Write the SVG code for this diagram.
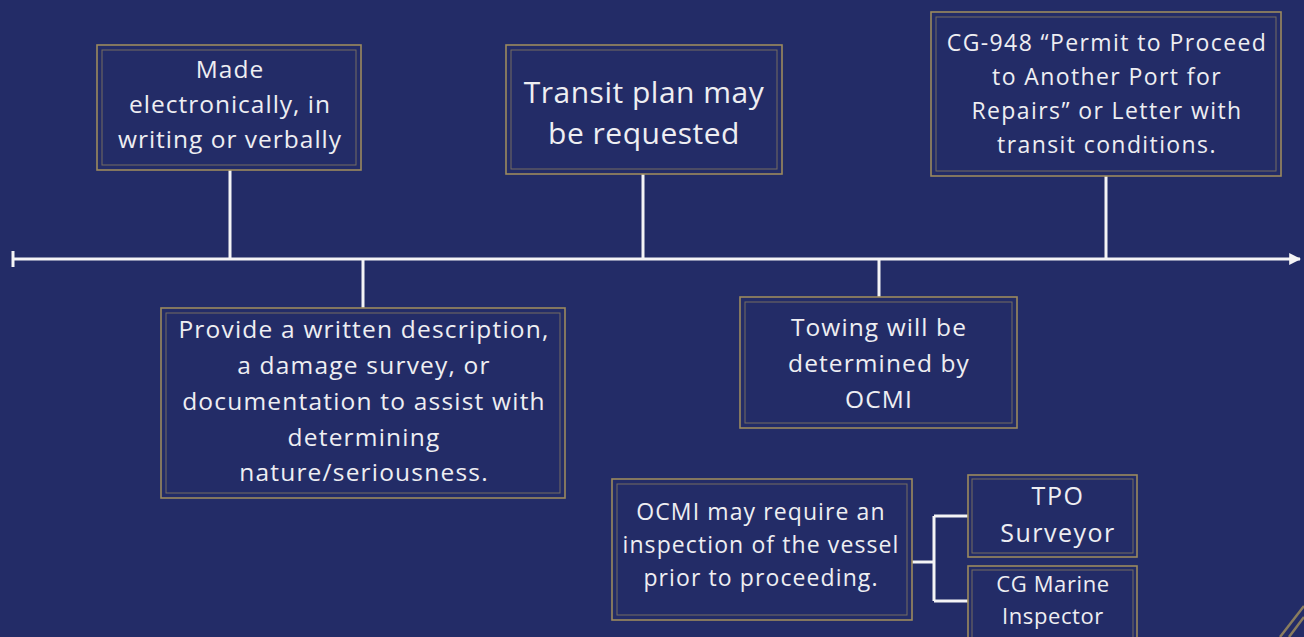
<svg xmlns="http://www.w3.org/2000/svg" width="1304" height="637" viewBox="0 0 1304 637">
<defs>
<style>
.bg{fill:#232c67}
.outer{fill:#232c67;stroke:#9c8a5e;stroke-width:1.6}
.inner{fill:none;stroke:#8a7d62;stroke-width:1;opacity:0.8}
.t{font-family:"Open Sans","Liberation Sans",sans-serif;fill:#eeeef2;text-anchor:middle}
.ln{stroke:#f4f4f6;stroke-width:3;fill:none}
</style>
<marker id="arr" viewBox="0 0 10 10" refX="9" refY="5" markerWidth="4" markerHeight="4" orient="auto" markerUnits="strokeWidth">
<path d="M0,0 L10,5 L0,10 z" fill="#f4f4f6"/>
</marker>
</defs>
<rect class="bg" x="0" y="0" width="1304" height="637"/>
<g id="decor">
<line x1="1304" y1="606" x2="1280" y2="637" stroke="#8a7d5e" stroke-width="2.5"/>
<line x1="1304" y1="617" x2="1289" y2="637" stroke="#8a7d5e" stroke-width="2.5"/>
</g>
<g id="connectors">
<line class="ln" x1="13" y1="259" x2="1300" y2="259" marker-end="url(#arr)"/>
<line class="ln" x1="13" y1="251" x2="13" y2="267"/>
<line class="ln" x1="230" y1="170" x2="230" y2="259"/>
<line class="ln" x1="643" y1="174" x2="643" y2="259"/>
<line class="ln" x1="1106" y1="176" x2="1106" y2="259"/>
<line class="ln" x1="363" y1="259" x2="363" y2="308"/>
<line class="ln" x1="879" y1="259" x2="879" y2="297"/>
<line class="ln" x1="912" y1="562" x2="934" y2="562"/>
<line class="ln" x1="934" y1="516" x2="934" y2="601"/>
<line class="ln" x1="934" y1="516" x2="968" y2="516"/>
<line class="ln" x1="934" y1="601" x2="968" y2="601"/>
</g>
<g id="n1">
<rect class="outer" x="97" y="45" width="264" height="125"/>
<rect class="inner" x="102" y="50" width="254" height="115"/>
<text class="t" font-size="24.5" letter-spacing="1"><tspan x="230" y="78">Made</tspan><tspan x="230" y="113">electronically, in</tspan><tspan x="230" y="148">writing or verbally</tspan></text>
</g>
<g id="n2">
<rect class="outer" x="506" y="45" width="276" height="129"/>
<rect class="inner" x="511" y="50" width="266" height="119"/>
<text class="t" font-size="30" letter-spacing="0.5"><tspan x="644" y="103">Transit plan may</tspan><tspan x="644" y="144">be requested</tspan></text>
</g>
<g id="n3">
<rect class="outer" x="931" y="12" width="350" height="164"/>
<rect class="inner" x="936" y="17" width="340" height="154"/>
<text class="t" font-size="23" letter-spacing="1.4"><tspan x="1107" y="51">CG-948 “Permit to Proceed</tspan><tspan x="1107" y="85">to Another Port for</tspan><tspan x="1107" y="119">Repairs” or Letter with</tspan><tspan x="1107" y="153">transit conditions.</tspan></text>
</g>
<g id="n4">
<rect class="outer" x="161" y="308" width="404" height="190"/>
<rect class="inner" x="166" y="313" width="394" height="180"/>
<text class="t" font-size="24.5" letter-spacing="1.2"><tspan x="364" y="338">Provide a written description,</tspan><tspan x="364" y="374">a damage survey, or</tspan><tspan x="364" y="410">documentation to assist with</tspan><tspan x="364" y="446">determining</tspan><tspan x="364" y="481">nature/seriousness.</tspan></text>
</g>
<g id="n5">
<rect class="outer" x="740" y="297" width="277" height="131"/>
<rect class="inner" x="745" y="302" width="267" height="121"/>
<text class="t" font-size="24.5" letter-spacing="1.1"><tspan x="879" y="336">Towing will be</tspan><tspan x="879" y="372">determined by</tspan><tspan x="879" y="408">OCMI</tspan></text>
</g>
<g id="n6">
<rect class="outer" x="612" y="479" width="300" height="141"/>
<rect class="inner" x="617" y="484" width="290" height="131"/>
<text class="t" font-size="23" letter-spacing="1.1"><tspan x="761" y="520">OCMI may require an</tspan><tspan x="761" y="553">inspection of the vessel</tspan><tspan x="761" y="586">prior to proceeding.</tspan></text>
</g>
<g id="n7">
<rect class="outer" x="968" y="475" width="169" height="82"/>
<rect class="inner" x="972" y="479" width="161" height="74"/>
<text class="t" font-size="25" letter-spacing="1.5"><tspan x="1058" y="505">TPO</tspan><tspan x="1058" y="542">Surveyor</tspan></text>
</g>
<g id="n8">
<rect class="outer" x="968" y="566" width="169" height="80"/>
<rect class="inner" x="972" y="570" width="161" height="72"/>
<text class="t" font-size="22" letter-spacing="0.6"><tspan x="1053" y="592">CG Marine</tspan><tspan x="1053" y="624">Inspector</tspan></text>
</g>
</svg>
